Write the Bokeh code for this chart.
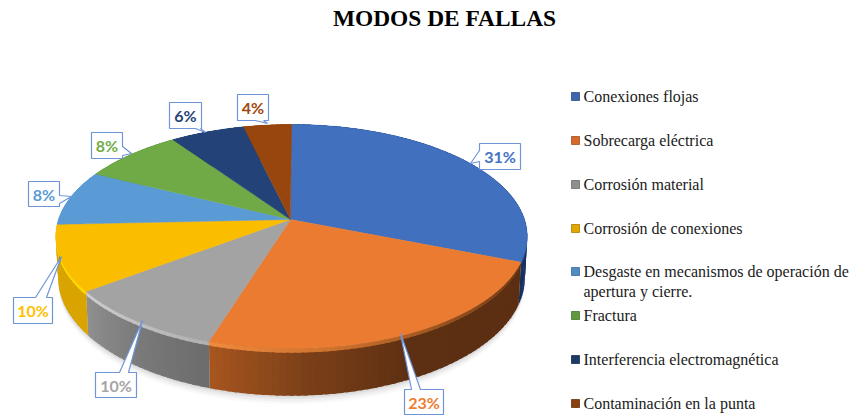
import math
from bokeh.plotting import figure
from bokeh.models import Range1d
from bokeh.core.properties import value
from bokeh.embed import file_html
from bokeh.resources import INLINE

title_text = "MODOS DE FALLAS"
categories = ["Conexiones flojas", "Sobrecarga eléctrica", "Corrosión material", "Corrosión de conexiones",
              "Desgaste en mecanismos de operación de\napertura y cierre.", "Fractura",
              "Interferencia electromagnética", "Contaminación en la punta"]
slice_values = [31.0, 23.9, 9.9, 9.5, 8.0, 8.0, 5.9, 3.8]
value_labels = ["31%", "23%", "10%", "10%", "8%", "8%", "6%", "4%"]
top_colors = ["#4070be", "#ea7b31", "#a3a3a3", "#fbbd00", "#5a9bd6", "#70aa46", "#234378", "#98460d"]
label_colors = ["#4472c4", "#ed7d31", "#a5a5a5", "#ffc000", "#5b9bd5", "#70ad47", "#264478", "#9e480e"]
legend_colors = ["#3f66ad", "#d8692c", "#8f8f8f", "#e0a800", "#4f8cc4", "#5f9a3c", "#1f3a68", "#8a400f"]

# layout: the pie as a perspective view of a circle
CX, APEX_Y, R, A, C = 291.0, 219.0, 233.0, 76.2, -0.1518
DEPTH = 40.0
wall_stops = [["#16305f", "#16305f"],
              ["#5c2e12", "#5c2e12", "#5e3013", "#7a3f18", "#a8561f"],
              ["#6c6c6c", "#7a7a7a", "#909090"],
              ["#d9a400", "#d9a400"],
              ["#3f74a8", "#3f74a8"], ["#4e7a30", "#4e7a30"], ["#182e54", "#182e54"], ["#6c320a", "#6c320a"]]
bevel_stops = [["#1f3f78", "#2a4f8f"],
               ["#6e3a16", "#8f4c1c", "#c8702c", "#f08a3e"],
               ["#b0b0b0", "#cfcfcf"],
               ["#ffd800", "#ffd800"],
               ["#5a9bd6", "#5a9bd6"], ["#70aa46", "#70aa46"], ["#234378", "#234378"], ["#98460d", "#98460d"]]


def proj(phi):
    u = -math.cos(phi)
    d = 1 + C * u
    return CX + R * math.sin(phi) / d, (APEX_Y + A * u) / d, d


def mix(stops, t):
    t = max(0.0, min(1.0, t)) * (len(stops) - 1)
    i = min(int(t), len(stops) - 2)
    f = t - i
    a, b = stops[i], stops[i + 1]
    return "#" + "".join("%02x" % round(int(a[k:k + 2], 16) * (1 - f) + int(b[k:k + 2], 16) * f) for k in (1, 3, 5))


def drop(phi, amount):
    x, y, d = proj(phi)
    return CX + (x - CX) * (1 - 0.01 * amount / DEPTH), y + amount / d


p = figure(width=852, height=415, output_backend="svg", toolbar_location=None,
           x_range=Range1d(0, 852), y_range=Range1d(415, 0), min_border=0)
p.axis.visible = False
p.grid.visible = False
p.outline_line_color = None
p.background_fill_color = "white"

total = sum(slice_values)
edges = [0.0]
for v in slice_values:
    edges.append(edges[-1] + v / total * 2 * math.pi)

# soft shadow under the wall
lower = [i * math.pi / 90 for i in range(30, 151)]
for grow, alpha in ((7, 0.05), (5, 0.07), (3, 0.09), (1.5, 0.10)):
    xs = [drop(a, DEPTH + grow)[0] for a in lower]
    ys = [drop(a, DEPTH + grow)[1] for a in lower]
    p.patch(xs, ys, fill_color="#808080", fill_alpha=alpha, line_color=None)

# side wall and rim, as narrow strips that overlap slightly
for i in range(8):
    a0, a1 = edges[i], edges[i + 1]
    n = max(2, int((a1 - a0) / math.radians(1.5)))
    over = (a1 - a0) / n * 0.6
    for stops, h0, h1 in ((wall_stops[i], 0.0, DEPTH), (bevel_stops[i], 0.0, 3.5)):
        xs_all, ys_all, cols = [], [], []
        for k in range(n):
            s0 = a0 + (a1 - a0) * k / n
            s1 = min(a1, a0 + (a1 - a0) * (k + 1) / n + over)
            p0, p1 = drop(s0, h0), drop(s1, h0)
            p2, p3 = drop(s1, h1), drop(s0, h1)
            xs_all.append([p0[0], p1[0], p2[0], p3[0]])
            ys_all.append([p0[1], p1[1], p2[1], p3[1]])
            cols.append(mix(stops, (k + 0.5) / n))
        p.patches(xs_all, ys_all, fill_color=cols, line_color=None)

# top face
for i in range(8):
    a0, a1 = edges[i], edges[i + 1]
    n = max(4, int((a1 - a0) / math.radians(1)))
    pts = [proj(a0 + (a1 - a0) * k / n) for k in range(n + 1)]
    p.patch([CX - 1] + [q[0] for q in pts], [APEX_Y] + [q[1] for q in pts],
            fill_color=top_colors[i], line_color=top_colors[i], line_width=0.4)

# callouts: box, side of the tail, tail base, tail tip, then label
boxes = [(479, 143, 520, 169, "left", 150, 161, 470, 163),
         (404, 389, 443, 414, "top", 411, 420, 400, 333),
         (95, 372, 136, 397, "top", 119, 128, 142, 320),
         (13, 297, 52, 323, "top", 35, 46, 61, 256),
         (28, 181, 59, 206, "right", 195, 203, 71, 196),
         (91, 132, 122, 158, "right", 146, 155, 131, 153),
         (169, 102, 201, 128, "bottom", 195, 200, 205, 132),
         (237, 94, 268, 120, "bottom", 255, 263, 267, 123)]
for (x0, y0, x1, y1, side, b0, b1, tx, ty), lab, col in zip(boxes, value_labels, label_colors):
    if side == "top":
        poly = [(x0, y0), (b0, y0), (tx, ty), (b1, y0), (x1, y0), (x1, y1), (x0, y1)]
    elif side == "right":
        poly = [(x0, y0), (x1, y0), (x1, b0), (tx, ty), (x1, b1), (x1, y1), (x0, y1)]
    elif side == "bottom":
        poly = [(x0, y0), (x1, y0), (x1, y1), (b1, y1), (tx, ty), (b0, y1), (x0, y1)]
    else:
        poly = [(x0, y0), (x1, y0), (x1, y1), (x0, y1), (x0, b1), (tx, ty), (x0, b0)]
    p.patch([q[0] for q in poly], [q[1] for q in poly], fill_color="white",
            line_color="#6f95d8", line_width=1.2)
    p.text([(x0 + x1) / 2], [(y0 + y1) / 2], text=[lab], text_color=col, text_align="center",
           text_baseline="middle", text_font=value("Lato"), text_font_style="bold", text_font_size="16px")

# title
p.text([444], [17], text=[title_text], text_color="#000000", text_align="center", text_baseline="middle",
       text_font=value("Liberation Serif"), text_font_style="bold", text_font_size="23.4px")

# legend
legend_y = [96, 140, 184, 228, 271, 315, 359, 403]
for cat, col, ly in zip(categories, legend_colors, legend_y):
    p.rect([575], [ly], width=8, height=8, fill_color=col, line_color=mix([col, "#000000"], 0.25), line_width=0.8)
    for j, line in enumerate(cat.split("\n")):
        p.text([583], [ly + j * 20], text=[line], text_color="#1a1a1a", text_align="left", text_baseline="middle",
               text_font=value("Liberation Serif"), text_font_size="16px")

open("out.html", "w").write(file_html(p, INLINE))
